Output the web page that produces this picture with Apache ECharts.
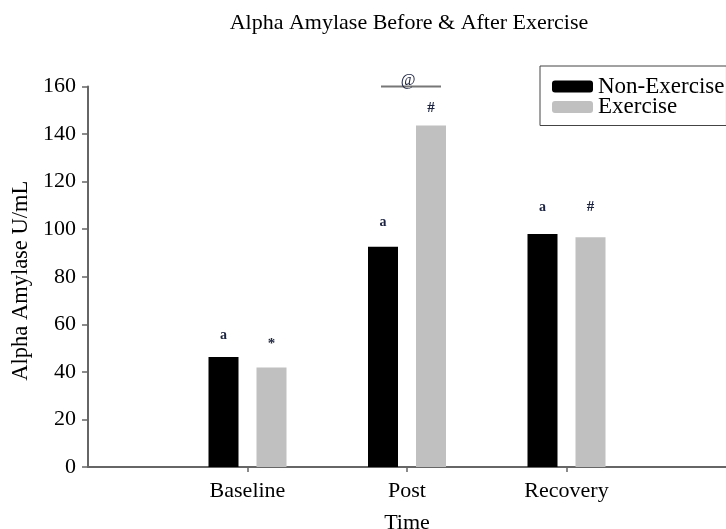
<!DOCTYPE html>
<html>
<head>
<meta charset="utf-8">
<script src="https://cdn.jsdelivr.net/npm/echarts@6/dist/echarts.min.js"></script>
<style>
html,body{margin:0;padding:0;background:#fff;}
#chart{width:726px;height:529px;}
</style>
</head>
<body>
<div id="chart"></div>
<script>
// ---- data ----
const categories = ['Baseline', 'Post', 'Recovery'];
const nonExercise = [46.3, 92.6, 98.0];
const exercise = [41.8, 143.6, 96.6];
const yTicks = [0, 20, 40, 60, 80, 100, 120, 140, 160];
// significance markers (text and height in data units)
const nonExMarks = ['a', 'a', 'a'];
const nonExMarkY = [55.5, 103, 109];
const exMarks = ['*', '#', '#'];
const exMarkY = [51.5, 151, 109.3];
const sigMark = '@';
const sigCategory = 'Post';
const sigY = 160;

const FONT = '"Liberation Serif", "Times New Roman", serif';
const axisCats = [''].concat(categories, ['']);
const pad = v => [null].concat(v, [null]);

const markData = [];
categories.forEach((c, i) => {
  markData.push([i + 1, nonExMarkY[i], nonExMarks[i], -1]);
  markData.push([i + 1, exMarkY[i], exMarks[i], 1]);
});
const sigData = [[categories.indexOf(sigCategory) + 1, sigY, sigMark]];

const chart = echarts.init(document.getElementById('chart'));
chart.setOption({
  animation: false,
  backgroundColor: '#fff',
  title: {
    text: 'Alpha Amylase Before & After Exercise',
    left: 404, top: 7, textAlign: 'center',
    textStyle: {fontFamily: FONT, fontSize: 22, fontWeight: 'normal', color: '#000'}
  },
  legend: {
    orient: 'vertical', left: 540, top: 66,
    itemWidth: 41, itemHeight: 12, itemGap: -2.5,
    borderColor: '#444', borderWidth: 1,
    padding: [9, 2, 7, 12],
    textStyle: {fontFamily: FONT, fontSize: 23, color: '#000', lineHeight: 20},
    data: ['Non-Exercise', 'Exercise']
  },
  grid: {left: 88, right: 0, top: 86.5, bottom: 62, containLabel: false, outerBoundsMode: 'none'},
  xAxis: {
    type: 'category', data: axisCats, boundaryGap: false,
    name: 'Time', nameLocation: 'middle', nameGap: 45,
    nameTextStyle: {fontFamily: FONT, fontSize: 22, color: '#000'},
    axisLine: {lineStyle: {color: '#666', width: 2}},
    axisTick: {show: true, length: 5, interval: (i, v) => v !== '', lineStyle: {color: '#666', width: 1.5}},
    axisLabel: {interval: 0, margin: 13, fontFamily: FONT, fontSize: 22, color: '#000'},
    splitLine: {show: false}
  },
  yAxis: {
    type: 'value', min: yTicks[0], max: yTicks[yTicks.length - 1], interval: yTicks[1] - yTicks[0],
    name: 'Alpha Amylase U/mL', nameLocation: 'middle', nameGap: 55,
    nameTextStyle: {fontFamily: FONT, fontSize: 22.5, color: '#000', padding: [0, 8, 0, 0]},
    axisLine: {show: true, lineStyle: {color: '#666', width: 2}},
    axisTick: {show: true, length: 6, lineStyle: {color: '#666', width: 1.5}},
    axisLabel: {margin: 12, fontFamily: FONT, fontSize: 22, color: '#000'},
    splitLine: {show: false}
  },
  series: [
    {name: 'Non-Exercise', type: 'bar', data: pad(nonExercise), barWidth: 30, barGap: '60%',
     itemStyle: {color: '#000'}},
    {name: 'Exercise', type: 'bar', data: pad(exercise), barWidth: 30, barGap: '60%',
     itemStyle: {color: '#c0c0c0'}},
    {type: 'custom', data: markData, encode: {x: 0, y: 1}, silent: true, clip: false,
     renderItem: (params, api) => {
       const p = api.coord([api.value(0), api.value(1)]);
       const sign = api.value(3);
       const txt = markData[params.dataIndex][2];
       return {type: 'text', x: p[0] + sign * 24, y: p[1],
         style: {text: txt, fontFamily: FONT, fontSize: txt === 'a' ? 14 : 15,
           fontWeight: 'bold',
           fill: '#1c2340', align: 'center', verticalAlign: 'middle'}};
     }},
    {type: 'custom', data: sigData, encode: {x: 0, y: 1}, silent: true, clip: false,
     renderItem: (params, api) => {
       const p = api.coord([api.value(0), api.value(1)]);
       return {type: 'group', children: [
         {type: 'line', shape: {x1: p[0] - 26, y1: p[1], x2: p[0] + 34, y2: p[1]},
          style: {stroke: '#777', lineWidth: 2}},
         {type: 'text', x: p[0] + 1, y: p[1] + 2,
          style: {text: sigData[params.dataIndex][2], fontFamily: FONT, fontSize: 16,
            fill: '#1c2340', align: 'center', verticalAlign: 'bottom'}}
       ]};
     }}
  ]
});
</script>
</body>
</html>
